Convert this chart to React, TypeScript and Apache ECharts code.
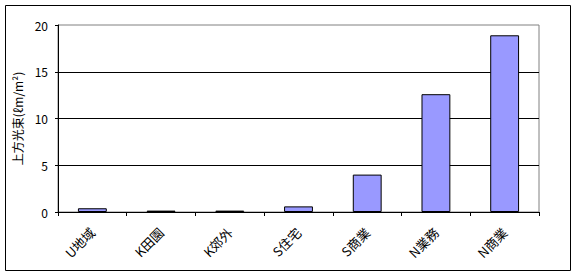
import React, { useEffect, useRef } from "react";
import * as echarts from "echarts";

const categories = ["U地域", "K田園", "K郊外", "S住宅", "S商業", "N業務", "N商業"];
const values = [0.4, 0.15, 0.15, 0.6, 4.0, 12.6, 18.9];
const yTicks = { min: 0, max: 20, interval: 5 };
const yName = "上方光束(ℓm/m²)";

const FONT = "'Noto Sans CJK JP', 'Noto Sans', sans-serif";

export default function App() {
  const ref = useRef<HTMLDivElement>(null);
  useEffect(() => {
    document.body.style.margin = "0";
    const chart = echarts.init(ref.current!, null, { renderer: "svg" });
    chart.setOption({
      animation: false,
      backgroundColor: "#ffffff",
      textStyle: { fontFamily: FONT },
      graphic: [
        {
          type: "rect",
          shape: { x: 5.5, y: 5.5, width: 565, height: 265 },
          style: { fill: "none", stroke: "#000", lineWidth: 1 },
          silent: true,
        },
      ],
      grid: {
        left: 58,
        top: 25,
        right: 37,
        bottom: 66,
        show: true,
        borderColor: "#808080",
        borderWidth: 1,
        backgroundColor: "transparent",
      },
      xAxis: {
        type: "category",
        data: categories,
        axisLine: { lineStyle: { color: "#000", width: 1 } },
        axisTick: { show: true, length: 4, lineStyle: { color: "#000" } },
        axisLabel: {
          rotate: 45,
          color: "#000",
          fontSize: 13,
          fontFamily: FONT,
          margin: 18,
          interval: 0,
        },
      },
      yAxis: {
        type: "value",
        min: yTicks.min,
        max: yTicks.max,
        interval: yTicks.interval,
        name: yName,
        nameLocation: "middle",
        nameRotate: 90,
        nameGap: 29,
        nameTextStyle: { color: "#000", fontSize: 12, fontFamily: FONT },
        axisLine: { show: true, lineStyle: { color: "#000", width: 1 } },
        axisTick: { show: true, length: 3, lineStyle: { color: "#000" } },
        axisLabel: { color: "#000", fontSize: 12, fontFamily: FONT, margin: 10 },
        splitLine: {
          show: true,
          showMaxLine: false,
          lineStyle: { color: "#000", width: 1 },
        },
      },
      series: [
        {
          type: "bar",
          data: values,
          barWidth: "42%",
          itemStyle: { color: "#9999FF", borderColor: "#000", borderWidth: 1 },
        },
      ],
    });
    return () => chart.dispose();
  }, []);
  return (
    <div
      ref={ref}
      style={{ position: "fixed", left: 0, top: 0, width: 576, height: 278 }}
    />
  );
}
